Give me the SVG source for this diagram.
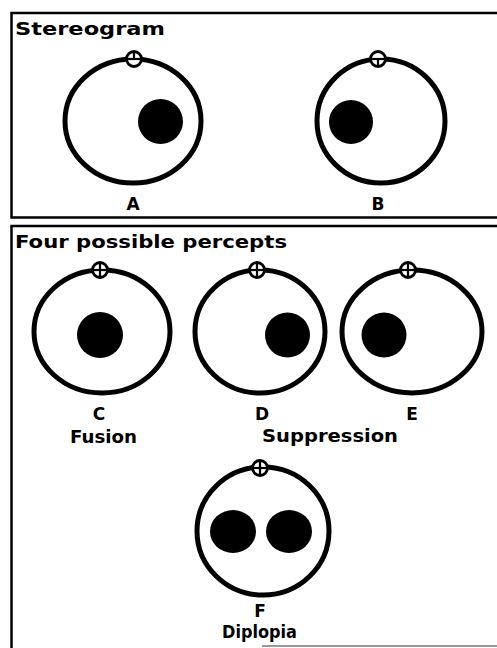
<svg xmlns="http://www.w3.org/2000/svg" width="497" height="648" viewBox="0 0 497 648">
<style>
.frame{fill:none;stroke:#000;stroke-width:2.5}
.eye{fill:#fff;stroke:#000;stroke-width:5}
.dot{fill:#000}
.mk{fill:#fff;stroke:#000;stroke-width:2.8}
.mkl{stroke:#000;stroke-width:2.2;fill:none}
.title{font-family:"DejaVu Sans","Liberation Sans",sans-serif;font-weight:bold;font-size:18px;fill:#000}
.lbl{font-family:"DejaVu Sans","Liberation Sans",sans-serif;font-weight:bold;font-size:17px;fill:#000;text-anchor:middle}
.cap{font-family:"DejaVu Sans","Liberation Sans",sans-serif;font-weight:bold;font-size:18px;fill:#000}
</style>
<defs>
<g id="plus"><circle class="mk" cx="0" cy="0" r="7.5"/><line class="mkl" x1="-7" y1="0" x2="7" y2="0"/><line class="mkl" x1="0" y1="-7" x2="0" y2="7"/></g>
</defs>
<rect width="497" height="648" fill="#fff"/>
<g id="stereogram-panel">
<path class="frame" d="M497,13 H11.5 V217.5 H497"/>
<text class="title" x="15" y="35" textLength="150" lengthAdjust="spacingAndGlyphs">Stereogram</text>
</g>
<g id="A">
<ellipse class="eye" cx="133" cy="121" rx="68" ry="62"/>
<circle class="dot" cx="160.5" cy="121.5" r="22.5"/>
<g transform="translate(134,59)"><circle class="mk" cx="0" cy="0" r="7.5"/><line class="mkl" x1="-7" y1="0" x2="7" y2="0"/><line class="mkl" x1="0" y1="-7" x2="0" y2="0"/></g>
<text class="lbl" x="133" y="210">A</text>
</g>
<g id="B">
<ellipse class="eye" cx="381" cy="121" rx="64" ry="62"/>
<circle class="dot" cx="351" cy="122" r="22"/>
<g transform="translate(378,59)"><circle class="mk" cx="0" cy="0" r="7.5"/><line class="mkl" x1="-7" y1="0" x2="7" y2="0"/><line class="mkl" x1="0" y1="0" x2="0" y2="7"/></g>
<text class="lbl" x="378" y="210">B</text>
</g>
<g id="percepts-panel">
<path class="frame" d="M497,226 H11.5 V648"/>
<line x1="262" y1="646" x2="497" y2="646" stroke="#999" stroke-width="2"/>
<text class="title" x="15" y="248" textLength="272" lengthAdjust="spacingAndGlyphs">Four possible percepts</text>
</g>
<g id="C">
<ellipse class="eye" cx="102" cy="331.5" rx="68" ry="61.5"/>
<circle class="dot" cx="100" cy="335" r="23"/>
<use href="#plus" x="100" y="270"/>
<text class="lbl" x="99" y="420">C</text>
<text class="cap" x="70" y="443" textLength="67" lengthAdjust="spacingAndGlyphs">Fusion</text>
</g>
<g id="D">
<ellipse class="eye" cx="260" cy="331.5" rx="65" ry="61.5"/>
<circle class="dot" cx="287.5" cy="335" r="22.5"/>
<use href="#plus" x="257" y="270"/>
<text class="lbl" x="262" y="420">D</text>
<text class="cap" x="262" y="442" textLength="136" lengthAdjust="spacingAndGlyphs">Suppression</text>
</g>
<g id="E">
<ellipse class="eye" cx="412" cy="331.5" rx="70" ry="61.5"/>
<circle class="dot" cx="384" cy="335" r="22.5"/>
<use href="#plus" x="408" y="270"/>
<text class="lbl" x="412" y="420">E</text>
</g>
<g id="F">
<ellipse class="eye" cx="263" cy="531" rx="66" ry="64"/>
<ellipse class="dot" cx="233" cy="531.5" rx="23" ry="21.5"/>
<ellipse class="dot" cx="289" cy="531.5" rx="23" ry="21.5"/>
<use href="#plus" x="260" y="468"/>
<text class="lbl" x="260" y="617">F</text>
<text class="cap" x="222" y="638" textLength="75" lengthAdjust="spacingAndGlyphs">Diplopia</text>
</g>
</svg>
